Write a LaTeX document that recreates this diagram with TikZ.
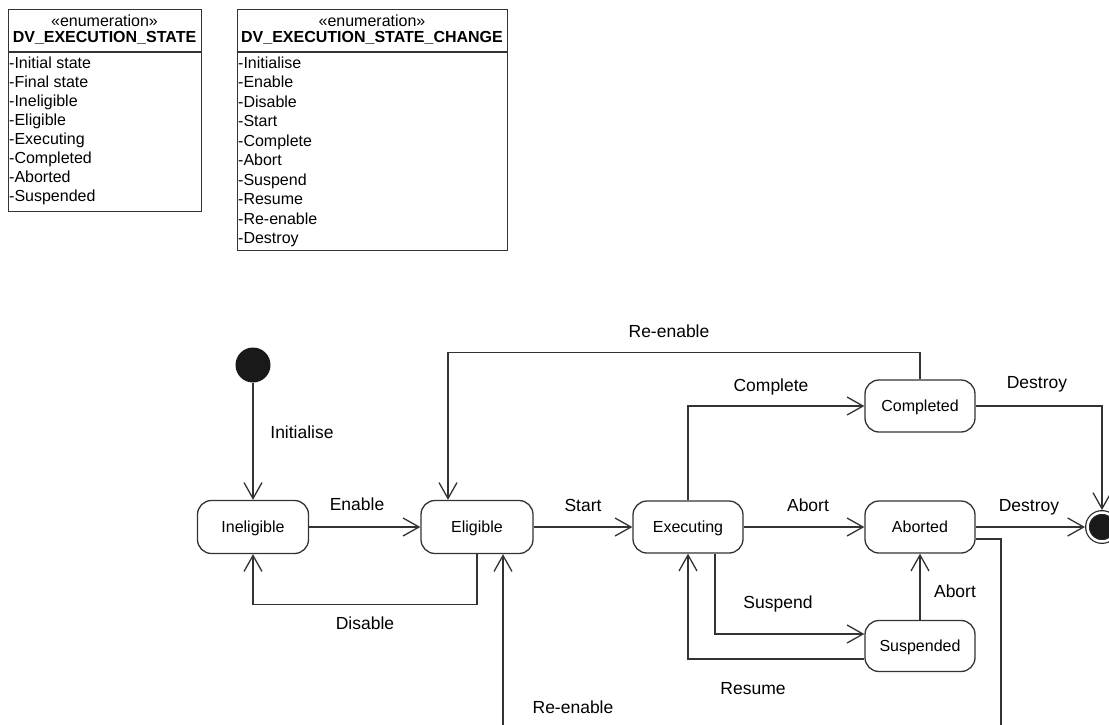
\documentclass[tikz,border=0pt]{standalone}
\usepackage{fontspec}
\setmainfont{Liberation Sans}
\usetikzlibrary{arrows.meta}

\begin{document}
\begin{tikzpicture}[x=1pt,y=-1pt,
  st/.style={draw=black!80,line width=1.3pt,rounded corners=14pt,minimum width=110pt,minimum height=52pt,inner sep=0pt,font=\fontsize{16}{19}\selectfont,text height=11.5pt,text depth=0pt},
  tr/.style={draw=black!80,line width=1.3pt,-{Straight Barb[length=16pt,width=18pt]}},
  lab/.style={font=\fontsize{17.5}{20}\selectfont,inner sep=0pt,text height=12.5pt,text depth=0pt},
  enum/.style={draw=black!80,line width=1.3pt,anchor=north west,inner sep=0pt},
  hd/.style={font=\fontsize{16}{19}\selectfont,anchor=base,inner sep=0pt},
  nm/.style={font=\fontsize{16}{19}\selectfont\bfseries,anchor=base,inner sep=0pt},
  itm/.style={font=\fontsize{16}{19}\selectfont,anchor=base west,inner sep=0pt}]
  \useasboundingbox (0,0) rectangle (1109,724);
  \clip (0,0) rectangle (1109,724);
  \coordinate (sep) at (0,52);
  % the two enumerations
  \node[enum,minimum width=193pt,minimum height=202pt] (esbox) at (8,9) {};
  \draw[draw=black!80,line width=1.3pt] (esbox.west |- sep) -- (esbox.east |- sep);
  \node[hd] (eshd) at (104.5,26.5) {«enumeration»};
  \node[nm] (esname) at (104.5,42) {DV\_EXECUTION\_STATE};
  \foreach \t [count=\i] in {Initial state,Final state,Ineligible,Eligible,Executing,Completed,Aborted,Suspended}
    \node[itm] (es\i) at (9,{68.5+19*(\i-1)}) {-\t};
  \node[enum,minimum width=270pt,minimum height=241pt] (ecbox) at (237,9) {};
  \draw[draw=black!80,line width=1.3pt] (ecbox.west |- sep) -- (ecbox.east |- sep);
  \node[hd] (echd) at (372,26.5) {«enumeration»};
  \node[nm] (ecname) at (372,42) {DV\_EXECUTION\_STATE\_CHANGE};
  \foreach \t [count=\i] in {Initialise,Enable,Disable,Start,Complete,Abort,Suspend,Resume,Re-enable,Destroy}
    \node[itm] (ec\i) at (238,{68.5+19.44*(\i-1)}) {-\t};
  % states
  \node[circle,fill=black!90,minimum size=35pt,inner sep=0pt] (init) at (253,365) {};
  \node[st,minimum width=111pt,minimum height=53pt] (inel) at (253,527) {Ineligible};
  \node[st,minimum width=112pt,minimum height=53pt] (elig) at (477,527) {Eligible};
  \node[st] (exec) at (688,527) {Executing};
  \node[st] (comp) at (920,406) {Completed};
  \node[st] (abrt) at (920,527) {Aborted};
  \node[st,minimum height=51pt] (susp) at (920,646) {Suspended};
  \node[circle,fill=black!90,draw=black!85,double=white,double distance=2.5pt,line width=1.2pt,minimum size=29pt,inner sep=0pt,outer sep=2.5pt] (fin) at (1102,527) {};
  \coordinate (below) at (1001,760);
  % transitions
  \draw[tr] (init) -- (inel);
  \draw[tr] (inel) -- (elig);
  \draw[tr] (elig.south) -- ++(0,50) -| (inel.south);
  \draw[tr] (elig) -- (exec);
  \draw[tr] (exec.north) |- (comp.west);
  \draw[tr] (exec) -- (abrt);
  \draw[tr] (comp.north) -- ++(0,-27) -| ([xshift=-29pt]elig.north);
  \draw[tr] (comp.east) -| (fin.north);
  \draw[tr] (abrt) -- (fin);
  \draw[tr] ([xshift=27pt]exec.south) |- ([yshift=12pt]susp.west);
  \draw[tr] ([yshift=-13pt]susp.west) -| (exec.south);
  \draw[tr] (susp) -- (abrt);
  \draw[tr] ([yshift=-12pt]abrt.east) -| (below) -| ([xshift=26pt]elig.south);
  \foreach \x/\y/\t [count=\i] in {302/432/Initialise,357/504/Enable,365/623/Disable,583/505/Start,771/385/Complete,808/505/Abort,669/331/Re-enable,1037/382/Destroy,1029/505/Destroy,778/602/Suspend,753/688/Resume,955/591/Abort,573/707/Re-enable}
    \node[lab] (l\i) at (\x,\y) {\t};
\end{tikzpicture}
\end{document}
